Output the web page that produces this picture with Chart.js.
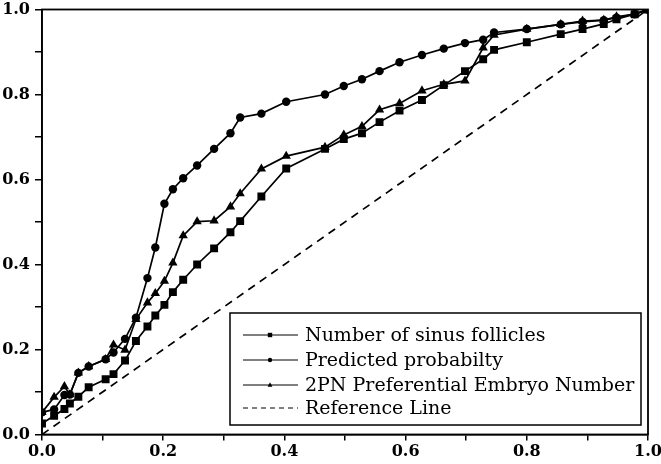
<!DOCTYPE html>
<html>
<head>
<meta charset="utf-8">
<script src="https://cdn.jsdelivr.net/npm/chart.js@4.4.0/dist/chart.umd.min.js"></script>
<style>
    html, body { margin: 0; padding: 0; background: #fff; }
</style>
</head>
<body>
<canvas id="rocCanvas" width="661" height="464"></canvas>
<script>
// 1 - specificity (shared by the three curves)
const fpr = [0, 0.02, 0.037, 0.046, 0.06, 0.077, 0.105, 0.118, 0.137, 0.155,
    0.174, 0.187, 0.202, 0.216, 0.233, 0.256, 0.284, 0.311, 0.327, 0.362,
    0.403, 0.467, 0.498, 0.528, 0.557, 0.59, 0.627, 0.663, 0.698, 0.728,
    0.746, 0.8, 0.856, 0.892, 0.927, 0.948, 0.978, 1.0];

const sinusFollicles = [0.026, 0.044, 0.06, 0.073, 0.089, 0.111, 0.13, 0.142, 0.174, 0.22,
    0.254, 0.28, 0.305, 0.335, 0.364, 0.4, 0.438, 0.476, 0.502, 0.56,
    0.626, 0.672, 0.695, 0.709, 0.735, 0.762, 0.787, 0.822, 0.855, 0.883,
    0.905, 0.923, 0.942, 0.954, 0.966, 0.977, 0.989, 1.0];

const predictedProb = [0.052, 0.059, 0.093, 0.094, 0.145, 0.16, 0.177, 0.193, 0.225, 0.275,
    0.368, 0.44, 0.543, 0.577, 0.603, 0.633, 0.672, 0.709, 0.746, 0.755,
    0.783, 0.8, 0.82, 0.836, 0.855, 0.876, 0.893, 0.908, 0.921, 0.929,
    0.946, 0.954, 0.965, 0.971, 0.975, 0.981, 0.989, 1.0];

const embryoNumber = [0.052, 0.088, 0.113, 0.094, 0.145, 0.16, 0.177, 0.211, 0.199, 0.271,
    0.31, 0.332, 0.361, 0.404, 0.468, 0.501, 0.503, 0.536, 0.567, 0.625,
    0.655, 0.676, 0.705, 0.725, 0.764, 0.779, 0.809, 0.824, 0.832, 0.91,
    0.94, 0.954, 0.965, 0.973, 0.975, 0.983, 0.989, 1.0];

const refX = [0, 1];
const refY = [0, 1];

const seriesNames = ['Number of sinus follicles', 'Predicted probabilty',
    '2PN Preferential Embryo Number', 'Reference Line'];
const markers = ['rect', 'circle', 'triangle', false];

const toPoints = (xs, ys) => xs.map((x, i) => ({ x: x, y: ys[i] }));

// plot frame (top + right sides too)
const framePlugin = {
    id: 'frame',
    afterDatasetsDraw(chart) {
        const a = chart.chartArea;
        const ctx = chart.ctx;
        ctx.save();
        ctx.strokeStyle = '#000';
        ctx.lineWidth = 1.8;
        ctx.strokeRect(a.left, a.top, a.right - a.left, a.bottom - a.top);
        ctx.restore();
    }
};

function drawMarker(ctx, style, x, y, r) {
    ctx.beginPath();
    if (style === 'circle') {
        ctx.arc(x, y, r, 0, Math.PI * 2);
    } else if (style === 'rect') {
        ctx.rect(x - r, y - r, r * 2, r * 2);
    } else if (style === 'triangle') {
        ctx.moveTo(x, y - r * 1.2);
        ctx.lineTo(x + r * 1.1, y + r * 0.8);
        ctx.lineTo(x - r * 1.1, y + r * 0.8);
        ctx.closePath();
    }
    ctx.fill();
}

// boxed legend like the original figure
const boxLegend = {
    id: 'boxLegend',
    afterDraw(chart) {
        const ctx = chart.ctx;
        const left = 230, top = 313, right = 641, bottom = 425;
        const rows = [335, 360, 385, 408];
        ctx.save();
        ctx.fillStyle = '#fff';
        ctx.fillRect(left, top, right - left, bottom - top);
        ctx.strokeStyle = '#000';
        ctx.lineWidth = 1.5;
        ctx.strokeRect(left, top, right - left, bottom - top);
        ctx.font = '19px "DejaVu Serif"';
        ctx.textBaseline = 'middle';
        seriesNames.forEach((name, i) => {
            const y = rows[i];
            ctx.strokeStyle = '#000';
            ctx.fillStyle = '#000';
            ctx.lineWidth = 1;
            ctx.setLineDash(markers[i] ? [] : [5, 4]);
            ctx.beginPath();
            ctx.moveTo(243, y);
            ctx.lineTo(298, y);
            ctx.stroke();
            ctx.setLineDash([]);
            if (markers[i]) drawMarker(ctx, markers[i], 270, y, 2.2);
            ctx.fillText(name, 305, y + 1);
        });
        ctx.restore();
    }
};

const tickFont = { family: 'DejaVu Serif', weight: 'bold', size: 16 };

const rocChart = document.getElementById('rocCanvas');
const graph = new Chart(rocChart, {
    type: 'line',
    data: {
        datasets: [{
            label: seriesNames[0],
            data: toPoints(fpr, sinusFollicles),
            pointStyle: 'rect',
            pointRadius: 5.6
        }, {
            label: seriesNames[1],
            data: toPoints(fpr, predictedProb),
            pointStyle: 'circle',
            pointRadius: 4.2
        }, {
            label: seriesNames[2],
            data: toPoints(fpr, embryoNumber),
            pointStyle: 'triangle',
            pointRadius: 5.4
        }, {
            label: seriesNames[3],
            data: toPoints(refX, refY),
            pointRadius: 0,
            borderDash: [8, 6]
        }]
    },
    options: {
        responsive: false,
        animation: false,
        layout: {
            padding: { top: 9.5, right: 13, left: 0, bottom: 0 }
        },
        elements: {
            line: { borderColor: '#000', borderWidth: 1.7, tension: 0, fill: false },
            point: { backgroundColor: '#000', borderColor: '#000', borderWidth: 0 }
        },
        scales: {
            x: {
                type: 'linear',
                min: 0,
                max: 1,
                grid: { drawOnChartArea: false, drawTicks: true, tickLength: 6, color: '#000', lineWidth: 1.5 },
                border: { display: true, color: '#000', width: 1.5 },
                ticks: {
                    stepSize: 0.1,
                    autoSkip: false,
                    maxRotation: 0,
                    padding: 2,
                    color: '#000',
                    font: tickFont,
                    callback: v => Math.round(v * 10) % 2 === 0 ? v.toFixed(1) : ''
                },
                afterFit: s => { s.height = 29.5; s.paddingLeft = 0; s.paddingRight = 0; }
            },
            y: {
                type: 'linear',
                min: 0,
                max: 1,
                grid: { drawOnChartArea: false, drawTicks: true, tickLength: 7, color: '#000', lineWidth: 1.5 },
                border: { display: true, color: '#000', width: 1.5 },
                ticks: {
                    stepSize: 0.1,
                    autoSkip: false,
                    padding: 5,
                    color: '#000',
                    font: tickFont,
                    callback: v => Math.round(v * 10) % 2 === 0 ? v.toFixed(1) : ''
                },
                afterFit: s => { s.width = 42; s.paddingTop = 0; s.paddingBottom = 0; }
            }
        },
        plugins: {
            legend: { display: false },
            tooltip: { enabled: false }
        }
    },
    plugins: [framePlugin, boxLegend]
});
</script>
</body>
</html>
